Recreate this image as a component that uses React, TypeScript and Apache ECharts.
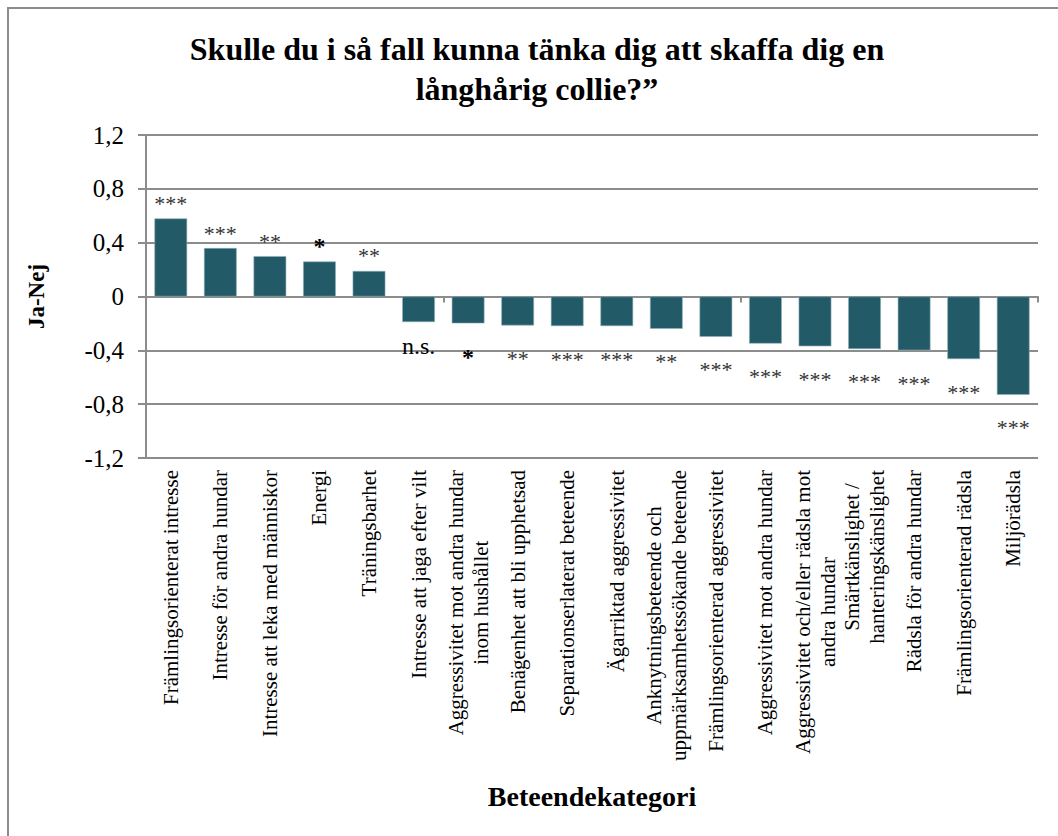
import React, { useEffect, useRef } from "react";
import * as echarts from "echarts";

const categories: string[] = [
  "Främlingsorienterat intresse",
  "Intresse för andra hundar",
  "Intresse att leka med människor",
  "Energi",
  "Träningsbarhet",
  "Intresse att jaga efter vilt",
  "Aggressivitet mot andra hundar\ninom hushållet",
  "Benägenhet att bli upphetsad",
  "Separationserlaterat beteende",
  "Ägarriktad aggressivitet",
  "Anknytningsbeteende och\nuppmärksamhetssökande beteende",
  "Främlingsorienterad aggressivitet",
  "Aggressivitet mot andra hundar",
  "Aggressivitet och/eller rädsla mot\nandra hundar",
  "Smärtkänslighet /\nhanteringskänslighet",
  "Rädsla för andra hundar",
  "Främlingsorienterad rädsla",
  "Miljörädsla",
];

const values: number[] = [
  0.58, 0.36, 0.3, 0.26, 0.19, -0.19, -0.2, -0.215, -0.22, -0.22, -0.24, -0.3,
  -0.35, -0.37, -0.39, -0.4, -0.465, -0.73,
];

const significance: string[] = [
  "***", "***", "**", "*", "**", "n.s.", "*", "**", "***", "***", "**", "***",
  "***", "***", "***", "***", "***", "***",
];

const yTicks = { min: -1.2, max: 1.2, step: 0.4 };

const TITLE = "Skulle du i så fall kunna tänka dig att skaffa dig en\nlånghårig collie?”";

const FONT = "'Liberation Serif', 'Times New Roman', serif";
const GRID_COLOR = "#8c8c8c";
const BAR_COLOR = "#235A68";

export default function App() {
  const ref = useRef<HTMLDivElement>(null);

  useEffect(() => {
    if (!ref.current) return;
    const chart = echarts.init(ref.current, undefined, { renderer: "svg" });

    const data = values.map((v, i) => {
      const s = significance[i];
      const dist = v >= 0 ? 4 : s === "n.s." ? 12 : 22;
      return {
        value: v,
        label: { position: v >= 0 ? "top" : "bottom", distance: dist },
      };
    });

    chart.setOption({
      animation: false,
      backgroundColor: "#ffffff",
      graphic: [
        {
          type: "rect",
          shape: { x: 8, y: 8, width: 1200, height: 1000 },
          style: { fill: "none", stroke: GRID_COLOR, lineWidth: 2 },
          silent: true,
        },
        {
          type: "text",
          x: 537,
          y: 29,
          silent: true,
          style: {
            text: TITLE,
            textAlign: "center",
            textVerticalAlign: "top",
            fontFamily: FONT,
            fontWeight: "bold",
            fontSize: 32,
            lineHeight: 40,
            fill: "#000",
          },
        },
      ],
      grid: { left: 146, top: 135, width: 892, height: 323, containLabel: false },
      xAxis: [
        {
          type: "category",
          data: categories,
          position: "bottom",
          axisLine: { show: true, onZero: true, lineStyle: { color: GRID_COLOR, width: 2 } },
          axisTick: { show: true, length: 6, lineStyle: { color: GRID_COLOR, width: 2 } },
          axisLabel: { show: false },
          splitLine: { show: false },
        },
        {
          type: "category",
          data: categories,
          position: "bottom",
          axisLine: { show: false, onZero: false },
          axisTick: { show: false },
          splitLine: { show: false },
          axisLabel: {
            show: true,
            interval: 0,
            rotate: 90,
            margin: 12,
            formatter: (val: string) =>
              val
                .split("\n")
                .map((l) => `{c|${l}}`)
                .join("\n"),
            rich: {
              c: {
                align: "center",
                fontFamily: FONT,
                fontSize: 21,
                lineHeight: 25,
                color: "#000",
              },
            },
          },
          name: "Beteendekategori",
          nameLocation: "middle",
          nameGap: 324,
          nameTextStyle: {
            fontFamily: FONT,
            fontWeight: "bold",
            fontSize: 28,
            color: "#000",
          },
        },
      ],
      yAxis: {
        type: "value",
        min: yTicks.min,
        max: yTicks.max,
        interval: yTicks.step,
        axisLine: { show: true, lineStyle: { color: GRID_COLOR, width: 2 } },
        axisTick: { show: true, length: 8, lineStyle: { color: GRID_COLOR, width: 2 } },
        splitLine: { show: true, lineStyle: { color: GRID_COLOR, width: 2 } },
        axisLabel: {
          margin: 22,
          fontFamily: FONT,
          fontSize: 25,
          color: "#000",
          formatter: (v: number) => {
            const r = Math.round(v * 10) / 10;
            return r === 0 ? "0" : String(r).replace(".", ",");
          },
        },
        name: "Ja-Nej",
        nameLocation: "middle",
        nameRotate: 90,
        nameGap: 98,
        nameTextStyle: {
          fontFamily: FONT,
          fontWeight: "bold",
          fontSize: 23,
          color: "#000",
        },
      },
      series: [
        {
          type: "bar",
          xAxisIndex: 0,
          data,
          barCategoryGap: "34%",
          itemStyle: { color: BAR_COLOR, borderColor: "#8fb0b9", borderWidth: 0.6 },
          label: {
            show: true,
            formatter: (p: any) => {
              const s = significance[p.dataIndex];
              if (s === "*") return "{b|*}";
              if (s === "n.s.") return "{n|n.s.}";
              return `{a|${s}}`;
            },
            rich: {
              a: { fontFamily: FONT, fontSize: 22, color: "#333" },
              b: { fontFamily: FONT, fontSize: 24, fontWeight: "bold", color: "#000" },
              n: { fontFamily: FONT, fontSize: 24, color: "#000" },
            },
          },
        },
      ],
    });

    return () => chart.dispose();
  }, []);

  return (
    <div
      ref={ref}
      style={{ position: "absolute", left: 0, top: 0, width: 1058, height: 836 }}
    />
  );
}
